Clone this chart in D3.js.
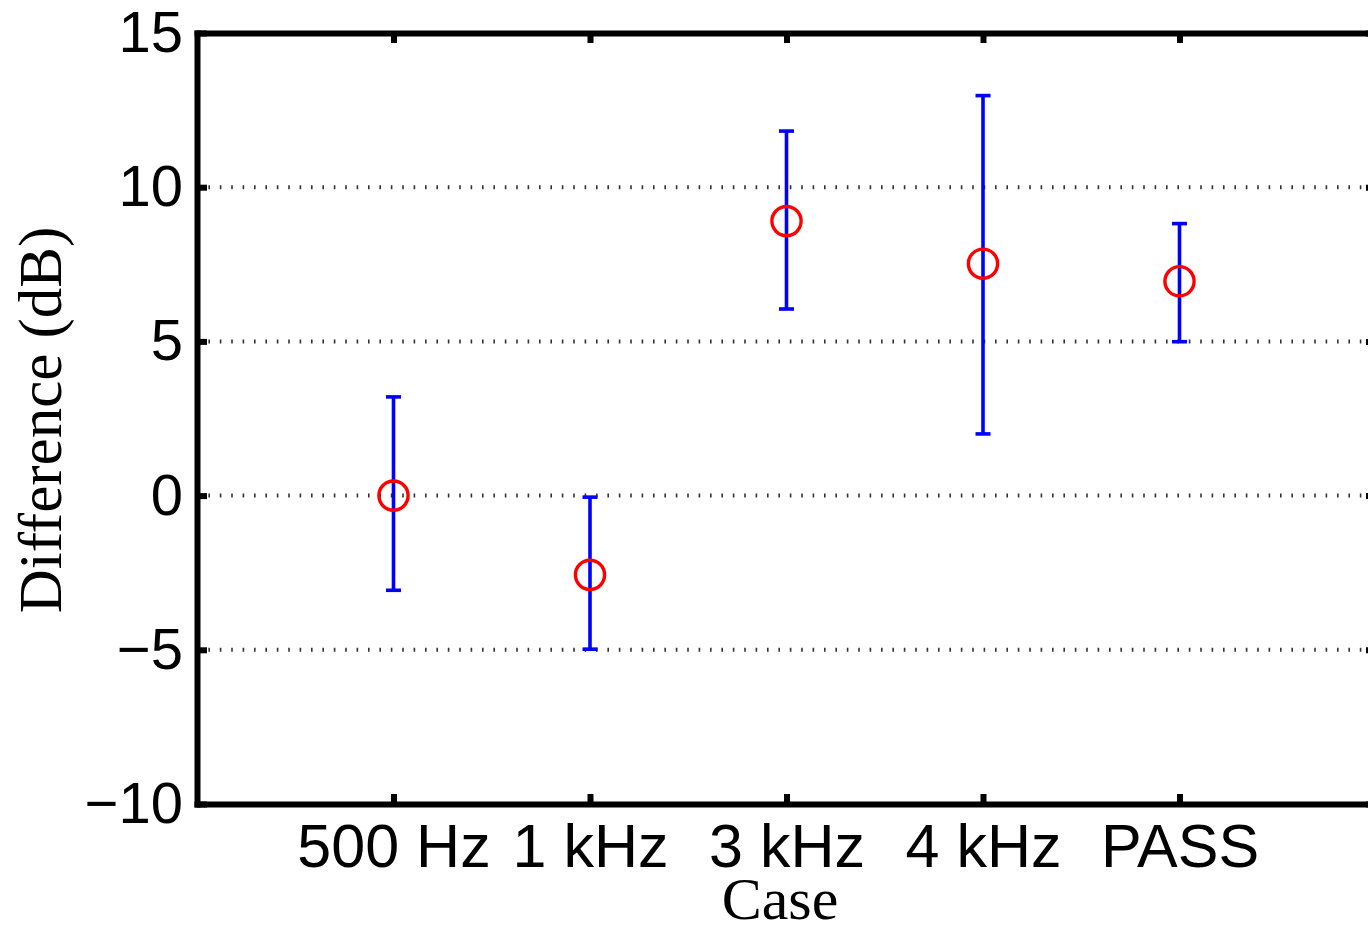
<!DOCTYPE html>
<html>
<head>
<meta charset="utf-8">
<script src="https://cdn.jsdelivr.net/npm/d3@7"></script>
<style>
  html, body { margin: 0; padding: 0; background: #fff; }
  svg { display: block; }
</style>
</head>
<body>
<svg id="chart" width="1368" height="927"></svg>
<script>
// ---- data ----
const categories = ["500 Hz", "1 kHz", "3 kHz", "4 kHz", "PASS"];
const meanValues = [0.0, -2.57, 8.9, 7.52, 6.95];
const upperValues = [3.2, -0.05, 11.82, 12.97, 8.82];
const lowerValues = [-3.07, -4.98, 6.05, 2.0, 4.99];
const yTickValues = [-10, -5, 0, 5, 10, 15];
const gridValues = [-5, 0, 5, 10];
const xLabel = "Case";
const yLabel = "Difference (dB)";

(function () {
// ---- layout ----
const W = 1368, H = 927;
const pL = 197, pR = 1376, pT = 33, pB = 804;
const svg = d3.select("#chart");
svg.append("rect").attr("width", W).attr("height", H).attr("fill", "#fff");

const x = d3.scaleLinear().domain([0, categories.length + 1]).range([pL, pR]);
const y = d3.scaleLinear().domain([-10, 15]).range([pB, pT]);

const sans = "'Liberation Sans', Arial, Helvetica, sans-serif";
const serif = "'Liberation Serif', 'Times New Roman', serif";

// grid
svg.append("g").selectAll("line").data(gridValues).join("line")
  .attr("x1", pL).attr("x2", pR)
  .attr("y1", d => y(d)).attr("y2", d => y(d))
  .attr("stroke", "#333").attr("stroke-width", 4)
  .attr("stroke-dasharray", "1.6,9.8");

// error bars
const rows = categories.map((c, i) => ({ i: i + 1, m: meanValues[i], hi: upperValues[i], lo: lowerValues[i] }));
const eb = svg.append("g").attr("stroke", "#0000ff").attr("stroke-width", 3.6).attr("fill", "none");
eb.selectAll("line.v").data(rows).join("line").attr("class", "v")
  .attr("x1", d => x(d.i)).attr("x2", d => x(d.i))
  .attr("y1", d => y(d.lo)).attr("y2", d => y(d.hi));
eb.selectAll("line.ct").data(rows).join("line").attr("class", "ct")
  .attr("x1", d => x(d.i) - 7.5).attr("x2", d => x(d.i) + 7.5)
  .attr("y1", d => y(d.hi)).attr("y2", d => y(d.hi));
eb.selectAll("line.cb").data(rows).join("line").attr("class", "cb")
  .attr("x1", d => x(d.i) - 7.5).attr("x2", d => x(d.i) + 7.5)
  .attr("y1", d => y(d.lo)).attr("y2", d => y(d.lo));

// mean markers
svg.append("g").selectAll("circle").data(rows).join("circle")
  .attr("cx", d => x(d.i)).attr("cy", d => y(d.m)).attr("r", 14.6)
  .attr("fill", "none").attr("stroke", "#ff0000").attr("stroke-width", 3.4);

// axes
function styleAxis(size) {
  return function (g) {
    g.selectAll(".domain").attr("stroke", "#000").attr("stroke-width", 6).attr("stroke-linecap", "square");
    g.selectAll(".tick line").attr("stroke", "#000").attr("stroke-width", 6);
    g.selectAll(".tick text").attr("fill", "#000").style("font-family", sans).style("font-size", size + "px");
  };
}
const xTicks = categories.map((c, i) => i + 1);

svg.append("g").attr("transform", `translate(0,${pT})`)
  .call(d3.axisTop(x).tickValues(xTicks).tickFormat("").tickSize(-10).tickSizeOuter(0))
  .call(styleAxis(57));
svg.append("g").attr("transform", `translate(${pR},0)`)
  .call(d3.axisRight(y).tickValues(yTickValues).tickFormat("").tickSize(-10).tickSizeOuter(0))
  .call(styleAxis(57));
svg.append("g").attr("transform", `translate(0,${pB})`)
  .call(d3.axisBottom(x).tickValues(xTicks).tickFormat(i => categories[i - 1]).tickSize(-10).tickSizeOuter(0).tickPadding(20))
  .call(styleAxis(61));
svg.append("g").attr("transform", `translate(${pL},0)`)
  .call(d3.axisLeft(y).tickValues(yTickValues).tickSize(-10).tickSizeOuter(0).tickPadding(14))
  .call(styleAxis(58));

// axis labels
svg.append("text").attr("x", 780).attr("y", 919)
  .attr("text-anchor", "middle").style("font-family", serif).style("font-size", "60px")
  .text(xLabel);
svg.append("text").attr("transform", "translate(61,420) rotate(-90)")
  .attr("text-anchor", "middle").style("font-family", serif).style("font-size", "61px")
  .text(yLabel);
})();
</script>
</body>
</html>
